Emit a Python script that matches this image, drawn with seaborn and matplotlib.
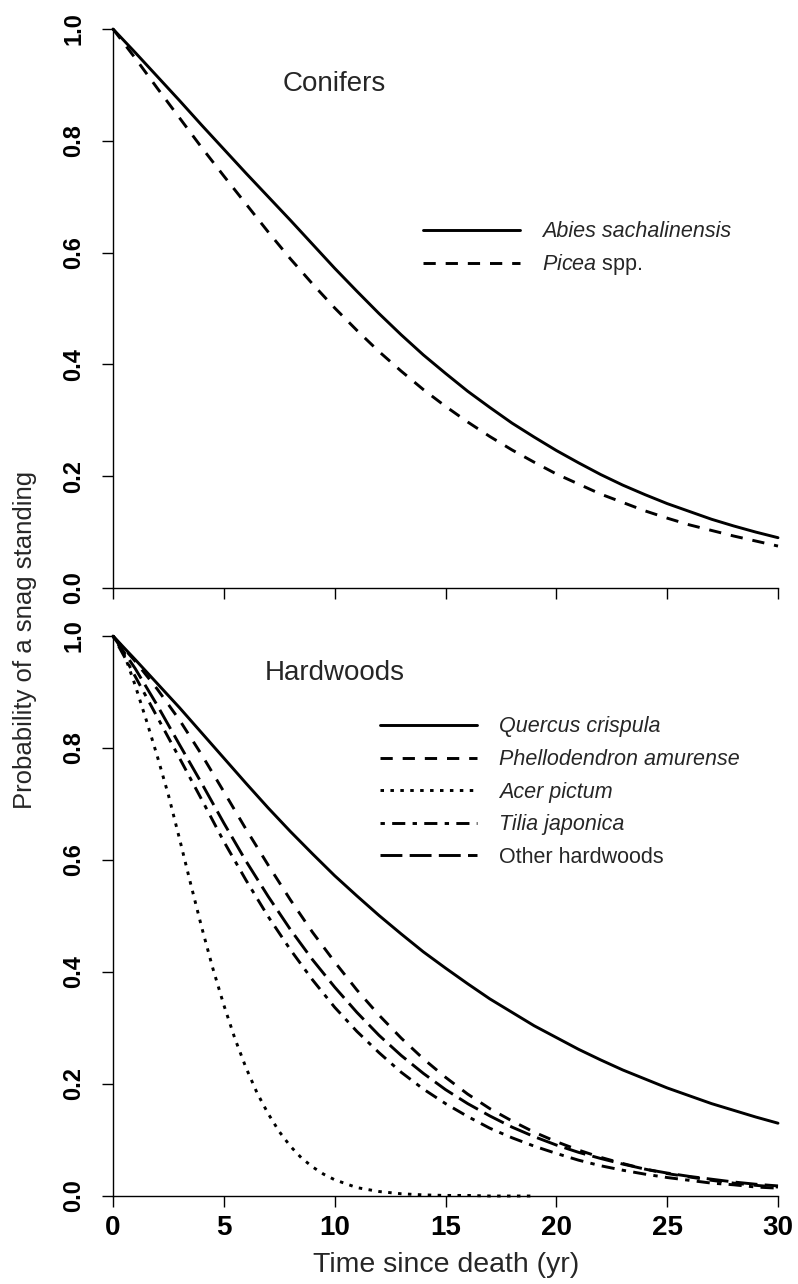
import matplotlib
matplotlib.use("Agg")
import matplotlib.pyplot as plt
from matplotlib.lines import Line2D
import pandas as pd
import seaborn as sns

# ---------------- data ----------------
years = list(range(0, 31))

abies = [1.000, 0.958, 0.915, 0.872, 0.828, 0.785, 0.742, 0.700, 0.658, 0.615,
         0.572, 0.531, 0.491, 0.453, 0.417, 0.384, 0.352, 0.323, 0.295, 0.270,
         0.246, 0.224, 0.203, 0.184, 0.167, 0.151, 0.137, 0.123, 0.111, 0.100, 0.090]
picea = [1.000, 0.948, 0.894, 0.841, 0.788, 0.737, 0.687, 0.637, 0.589, 0.544,
         0.501, 0.461, 0.423, 0.388, 0.355, 0.325, 0.297, 0.271, 0.247, 0.225,
         0.204, 0.186, 0.168, 0.153, 0.138, 0.125, 0.113, 0.103, 0.093, 0.084, 0.075]

quercus = [1.000, 0.958, 0.915, 0.872, 0.827, 0.782, 0.737, 0.693, 0.651, 0.611,
           0.572, 0.536, 0.501, 0.468, 0.436, 0.407, 0.379, 0.352, 0.328, 0.304,
           0.283, 0.262, 0.243, 0.225, 0.209, 0.193, 0.179, 0.165, 0.153, 0.141, 0.130]
phellodendron = [1.000, 0.955, 0.905, 0.850, 0.788, 0.722, 0.655, 0.591, 0.529, 0.471,
                 0.418, 0.368, 0.323, 0.282, 0.245, 0.212, 0.182, 0.156, 0.134, 0.114,
                 0.097, 0.082, 0.069, 0.058, 0.048, 0.040, 0.034, 0.028, 0.023, 0.019, 0.016]
other_hw = [1.000, 0.942, 0.876, 0.806, 0.737, 0.666, 0.598, 0.535, 0.476, 0.422,
            0.373, 0.328, 0.287, 0.251, 0.219, 0.190, 0.165, 0.143, 0.123, 0.106,
            0.091, 0.078, 0.067, 0.057, 0.048, 0.041, 0.035, 0.030, 0.025, 0.021, 0.018]
tilia = [1.000, 0.928, 0.855, 0.782, 0.708, 0.633, 0.564, 0.499, 0.440, 0.386,
         0.337, 0.294, 0.256, 0.221, 0.191, 0.165, 0.142, 0.121, 0.104, 0.089,
         0.076, 0.064, 0.054, 0.046, 0.039, 0.033, 0.028, 0.023, 0.020, 0.016, 0.014]

acer_years = [0, 0.5, 1, 1.5, 2, 2.5, 3, 3.5, 4, 4.5, 5, 5.5, 6, 6.5, 7, 7.5, 8, 8.5,
              9, 9.5, 10, 11, 12, 13, 14, 15, 16, 17, 18, 19]
acer = [1.000, 0.968, 0.912, 0.850, 0.785, 0.716, 0.638, 0.558, 0.480, 0.407,
        0.341, 0.281, 0.229, 0.184, 0.147, 0.115, 0.089, 0.068, 0.052, 0.039,
        0.029, 0.015, 0.008, 0.004, 0.002, 0.001, 0.001, 0.000, 0.000, 0.000]

conifer_names = ["Abies sachalinensis", "Picea spp."]
hardwood_names = ["Quercus crispula", "Phellodendron amurense", "Acer pictum",
                  "Tilia japonica", "Other hardwoods"]
panel_titles = ["Conifers", "Hardwoods"]

x_ticks = [0, 5, 10, 15, 20, 25, 30]
x_ticklabels = ["0", "5", "10", "15", "20", "25", "30"]
y_ticks = [0.0, 0.2, 0.4, 0.6, 0.8, 1.0]
y_ticklabels = ["0.0", "0.2", "0.4", "0.6", "0.8", "1.0"]

x_label = "Time since death (yr)"
y_label = "Probability of a snag standing"

# ---------------- styles ----------------
dash_map = {
    "Abies sachalinensis": "",
    "Picea spp.": (4.2, 3.4),
    "Quercus crispula": "",
    "Phellodendron amurense": (4.2, 3.4),
    "Acer pictum": (1.2, 2.2),
    "Tilia japonica": (1.5, 2.5, 4.5, 2.5),
    "Other hardwoods": (7.5, 2.5),
}
LW = 2.1

sns.set_style("ticks")
plt.rcParams["font.family"] = ["Liberation Sans", "DejaVu Sans"]
plt.rcParams["mathtext.fontset"] = "custom"
plt.rcParams["mathtext.it"] = "Liberation Sans:italic"
plt.rcParams["mathtext.rm"] = "Liberation Sans"
NARROW = ["Liberation Sans Narrow", "Liberation Sans", "DejaVu Sans"]

W, H = 798, 1284
fig = plt.figure(figsize=(W / 100, H / 100), dpi=100)
fig.patch.set_facecolor("white")
ax1 = fig.add_axes([113 / W, (H - 588) / H, 665 / W, 559 / H])
ax2 = fig.add_axes([113 / W, (H - 1196) / H, 665 / W, 560 / H])

con_df = pd.DataFrame({
    "t": years + years,
    "p": abies + picea,
    "species": [conifer_names[0]] * len(years) + [conifer_names[1]] * len(years),
})
hw_df = pd.DataFrame({
    "t": years * 4 + acer_years,
    "p": quercus + phellodendron + tilia + other_hw + acer,
    "species": ([hardwood_names[0]] * len(years) + [hardwood_names[1]] * len(years)
                + [hardwood_names[3]] * len(years) + [hardwood_names[4]] * len(years)
                + [hardwood_names[2]] * len(acer_years)),
})

sns.lineplot(data=con_df, x="t", y="p", style="species", style_order=conifer_names,
             dashes={k: dash_map[k] for k in conifer_names}, color="black",
             linewidth=LW, estimator=None, errorbar=None, legend=False, ax=ax1)
sns.lineplot(data=hw_df, x="t", y="p", style="species", style_order=hardwood_names,
             dashes={k: dash_map[k] for k in hardwood_names}, color="black",
             linewidth=LW, estimator=None, errorbar=None, legend=False, ax=ax2)

for ax in (ax1, ax2):
    for ln in ax.lines:
        ln.set_clip_on(False)
    ax.set_xlim(0, 30)
    ax.set_ylim(0, 1)
    ax.set_xlabel("")
    ax.set_ylabel("")
    ax.spines["top"].set_visible(False)
    ax.spines["right"].set_visible(False)
    for s in ("left", "bottom"):
        ax.spines[s].set_color("black")
        ax.spines[s].set_linewidth(1.0)
    ax.set_xticks(x_ticks)
    ax.set_yticks(y_ticks)
    ax.set_yticklabels(y_ticklabels, rotation=90, va="center", fontsize=17,
                       fontweight="bold")
    ax.tick_params(axis="y", length=8, width=1.0, pad=12, direction="out",
                   colors="black")
    ax.tick_params(axis="x", length=8, width=1.0, pad=6, direction="out",
                   colors="black")
    ax.set_facecolor("white")

ax1.tick_params(axis="x", labelbottom=False)
ax2.set_xticklabels(x_ticklabels, fontsize=20, fontweight="bold", family=NARROW)

ax1.text(0.3334, 0.902, panel_titles[0], transform=ax1.transAxes, ha="center",
         va="center", fontsize=20)
ax2.text(0.334, 0.934, panel_titles[1], transform=ax2.transAxes, ha="center",
         va="center", fontsize=20)


def make_handle(name):
    d = dash_map[name]
    if d == "":
        return Line2D([], [], color="black", lw=LW, linestyle="-")
    return Line2D([], [], color="black", lw=LW, dashes=d)


def legend_label(name):
    if name == "Picea spp.":
        return r"$\mathit{Picea}$ spp."
    return name


def leg_kw(spacing):
    return dict(frameon=False, borderpad=0, borderaxespad=0, handlelength=4.5,
                handletextpad=1.05, labelspacing=spacing,
                prop={"family": "Liberation Sans", "size": 15.5, "style": "italic"})


leg1 = ax1.legend([make_handle(n) for n in conifer_names],
                  [legend_label(n) for n in conifer_names],
                  loc="center left", bbox_to_anchor=(0.466, 0.606), **leg_kw(0.48))
for txt, n in zip(leg1.get_texts(), conifer_names):
    if n == "Picea spp.":
        txt.set_style("normal")

leg2 = ax2.legend([make_handle(n) for n in hardwood_names],
                  [legend_label(n) for n in hardwood_names],
                  loc="center left", bbox_to_anchor=(0.4015, 0.721), **leg_kw(0.54))
for txt, n in zip(leg2.get_texts(), hardwood_names):
    if n == "Other hardwoods":
        txt.set_style("normal")

fig.text(25 / W, 1 - 640 / H, y_label, rotation=90, ha="center", va="center",
         fontsize=18.5)
fig.text(446 / W, 1 - 1265 / H, x_label, ha="center", va="center", fontsize=20.5,
         family=NARROW)

fig.savefig("out.png", dpi=100, facecolor="white")
